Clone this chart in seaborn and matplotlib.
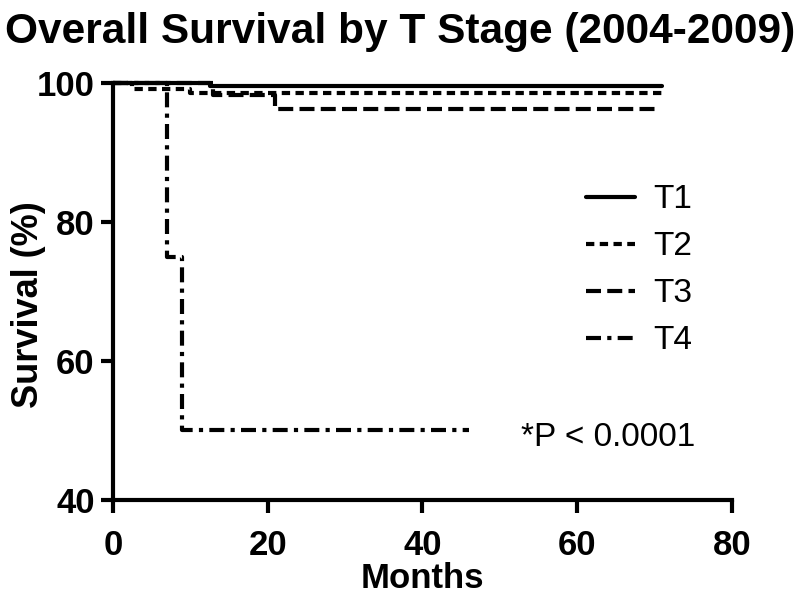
import pandas as pd
import matplotlib.pyplot as plt
import seaborn as sns

# Kaplan-Meier step points (months, survival %)
t1_months = [0, 12.5, 71]
t1_surv = [100, 99.6, 99.6]
t2_months = [0, 2.5, 10, 71]
t2_surv = [100, 99.2, 98.5, 98.5]
t3_months = [0, 13, 21, 70]
t3_surv = [100, 98.3, 96.3, 96.3]
t4_months = [0, 7, 9, 46]
t4_surv = [100, 75, 50, 50]
stages = ['T1', 'T2', 'T3', 'T4']

rows = []
for stage, months, surv in zip(stages,
                               [t1_months, t2_months, t3_months, t4_months],
                               [t1_surv, t2_surv, t3_surv, t4_surv]):
    for m, s in zip(months, surv):
        rows.append({'Stage': stage, 'Months': m, 'Survival': s})
df = pd.DataFrame(rows)

sns.set_style('ticks')
plt.rcParams['font.family'] = ['Liberation Sans', 'DejaVu Sans']
plt.rcParams['text.color'] = 'black'
plt.rcParams['axes.labelcolor'] = 'black'
plt.rcParams['xtick.color'] = 'black'
plt.rcParams['ytick.color'] = 'black'

fig = plt.figure(figsize=(8, 6), dpi=100)
ax = fig.add_axes([0.141, 0.1667, 0.774, 0.695])

dashes = {'T1': '', 'T2': (2, 1.3), 'T3': (3.6, 1.5), 'T4': (3.6, 1.5, 1.0, 1.5)}
sns.lineplot(data=df, x='Months', y='Survival', style='Stage', dashes=dashes,
             color='black', linewidth=3, estimator=None, sort=True,
             drawstyle='steps-post', ax=ax, legend=True)
for line in ax.lines:
    line.set_clip_on(False)

ax.set_xlim(0, 80)
ax.set_ylim(40, 100)
ax.set_xticks([0, 20, 40, 60, 80])
ax.set_yticks([40, 60, 80, 100])
for lab in ax.get_xticklabels() + ax.get_yticklabels():
    lab.set_fontweight('bold')
ax.tick_params(labelsize=25, width=3, length=9, pad=4)
ax.tick_params(axis='x', pad=12)
sns.despine(ax=ax)
for sp in ['left', 'bottom']:
    ax.spines[sp].set_linewidth(3)
    ax.spines[sp].set_color('black')

ax.set_xlabel('Months', fontsize=25, fontweight='bold', labelpad=0)
ax.set_ylabel('Survival (%)', fontsize=26, fontweight='bold')
ax.yaxis.set_label_coords(-0.108, 0.468)
fig.suptitle('Overall Survival by T Stage (2004-2009)', fontsize=30.5,
             fontweight='bold', x=0.5, y=0.98)

handles, labels = ax.get_legend_handles_labels()
ax.legend(handles, labels, loc='upper left', bbox_to_anchor=(0.765, 0.757),
          frameon=False, fontsize=24, handlelength=1.45, handletextpad=0.55,
          labelspacing=0.48, borderpad=0, borderaxespad=0)

ax.text(52.8, 49.0, '*P < 0.0001', fontsize=24, va='center', ha='left')

plt.savefig('out.png', dpi=100)
